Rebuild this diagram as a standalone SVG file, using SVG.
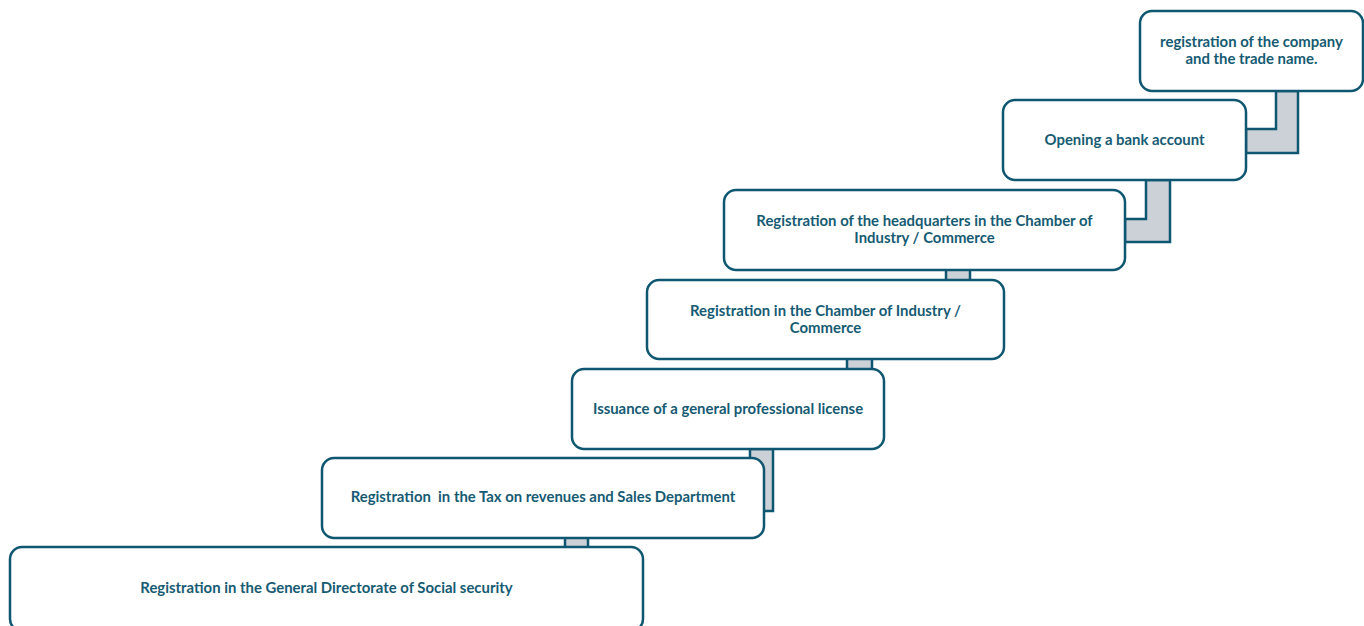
<svg xmlns="http://www.w3.org/2000/svg" width="1364" height="626" viewBox="0 0 1364 626">
  <style>
    .box { fill: #ffffff; stroke: #0f5670; stroke-width: 2.5; }
    .link { fill: #ccd1d8; stroke: #0f5670; stroke-width: 2.5; stroke-linejoin: miter; }
    .lbl { font-family: Lato, "Open Sans", "Liberation Sans", sans-serif; font-weight: bold; font-size: 14.9px; fill: #165b73; text-anchor: middle; }
  </style>
  <rect width="1364" height="626" fill="#ffffff"/>

  <!-- connectors: elbow bars between consecutive steps -->
  <g id="connectors">
    <polygon class="link" points="1276,91 1298,91 1298,153 1246,153 1246,129 1276,129"/>
    <polygon class="link" points="1146,180 1170,180 1170,242 1125,242 1125,219 1146,219"/>
    <rect class="link" x="946" y="268" width="24" height="14"/>
    <rect class="link" x="847" y="357" width="25" height="14"/>
    <polygon class="link" points="750,449 773,449 773,511 760,511 760,487 750,487"/>
    <rect class="link" x="565" y="536" width="23" height="13"/>
  </g>

  <g id="step1">
    <rect class="box" x="1140" y="11" width="223" height="80" rx="12"/>
    <text class="lbl" x="1251.5" y="47">registration of the company</text>
    <text class="lbl" x="1251.5" y="64">and the trade name.</text>
  </g>
  <g id="step2">
    <rect class="box" x="1003" y="100" width="243" height="80" rx="12"/>
    <text class="lbl" x="1124.5" y="145">Opening a bank account</text>
  </g>
  <g id="step3">
    <rect class="box" x="724" y="190" width="401" height="80" rx="12"/>
    <text class="lbl" x="924.5" y="226">Registration of the headquarters in the Chamber of</text>
    <text class="lbl" x="924.5" y="243">Industry / Commerce</text>
  </g>
  <g id="step4">
    <rect class="box" x="647" y="280" width="357" height="79" rx="12"/>
    <text class="lbl" x="825.5" y="316">Registration in the Chamber of Industry /</text>
    <text class="lbl" x="825.5" y="333">Commerce</text>
  </g>
  <g id="step5">
    <rect class="box" x="572" y="369" width="312" height="80" rx="12"/>
    <text class="lbl" x="728" y="414">Issuance of a general professional license</text>
  </g>
  <g id="step6">
    <rect class="box" x="322" y="458" width="442" height="80" rx="12"/>
    <text class="lbl" x="543" y="502" xml:space="preserve">Registration  in the Tax on revenues and Sales Department</text>
  </g>
  <g id="step7">
    <rect class="box" x="10" y="547" width="633" height="84" rx="12"/>
    <text class="lbl" x="326.5" y="593">Registration in the General Directorate of Social security</text>
  </g>
</svg>
